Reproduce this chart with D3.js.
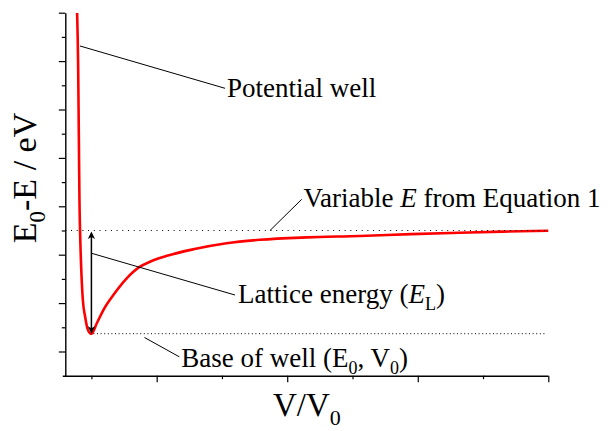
<!DOCTYPE html>
<html>
<head>
<meta charset="utf-8">
<script src="https://cdn.jsdelivr.net/npm/d3@7"></script>
<style>
  html, body { margin: 0; padding: 0; background: #fff; }
  svg { display: block; }
</style>
</head>
<body>
<svg id="chart" width="612" height="431" font-family="'Liberation Serif', Tinos, 'Times New Roman', Times, 'DejaVu Serif', serif"></svg>
<script>
// Potential energy curve (V/V0 vs E0-E), left (repulsive) branch then right branch
const volume = [0.781, 0.797, 0.807, 0.817, 0.827, 0.843, 0.869, 0.904, 0.939, 0.980, 1.000,
                1.083, 1.183, 1.336, 1.541, 1.745, 1.898, 2.203, 2.560, 3.070, 3.580, 4.300, 5.109, 5.900, 6.638, 7.300, 8.000];
const energy = [7.000, 5.884, 4.508, 3.130, 2.442, 1.752, 1.064, 0.719, 0.479, 0.376, 0.368,
                0.583, 0.857, 1.167, 1.512, 1.752, 1.855, 1.994, 2.111, 2.236, 2.308, 2.358, 2.386, 2.425, 2.455, 2.477, 2.496];

// Reference levels
const plateauE = 2.5;   // variable E
const wellMinV = 1.0;   // V0
const wellMinE = 0.368; // E0

// Axis tick values
const xMajorTicks = [2, 4, 6, 8];
const xMinorTicks = [1, 3, 5, 7];
const yMajorTicks = [0, 1, 2, 3, 4, 5, 6, 7];
const yMinorTicks = [0.5, 1.5, 2.5, 3.5, 4.5, 5.5, 6.5];

// Annotation leaders: [x1, y1, x2, y2] in data units, text anchored at (tx, ty)
const annotations = [
  { leader: [0.825, 6.312, 3.047, 5.438], tx: 3.077, ty: 5.262, key: "well" },
  { leader: [3.736, 2.500, 4.222, 3.145], tx: 4.250, ty: 2.992, key: "variable" },
  { leader: [1.004, 2.029, 3.200, 1.167], tx: 3.246, ty: 0.996, key: "lattice" },
  { leader: [1.813, 0.289, 2.347, -0.110], tx: 2.376, ty: -0.314, key: "base" }
];

const svg = d3.select("#chart");
const plotLeft = 65.3, plotRight = 548.3, plotTop = 12.7, plotBottom = 375.7;

const x = d3.scaleLinear().domain([0.6, 8]).range([plotLeft, plotRight]);
const y = d3.scaleLinear().domain([-0.5, 7]).range([plotBottom, plotTop]);

svg.append("defs").append("clipPath").attr("id", "plotClip")
  .append("rect").attr("x", plotLeft).attr("y", plotTop)
  .attr("width", plotRight - plotLeft + 2).attr("height", plotBottom - plotTop);

// Axes
function styleAxis(g) {
  g.selectAll("path.domain").attr("stroke", "#000").attr("stroke-width", 1.4);
  g.selectAll(".tick line").attr("stroke", "#000").attr("stroke-width", 1.2);
  g.selectAll(".tick text").remove();
}

svg.append("g").attr("transform", `translate(0,${plotBottom})`)
  .call(d3.axisBottom(x).tickValues(xMinorTicks).tickSize(3.5).tickSizeOuter(0).tickFormat(""))
  .call(styleAxis).call(g => g.select("path.domain").remove());
svg.append("g").attr("transform", `translate(0,${plotBottom})`)
  .call(d3.axisBottom(x).tickValues(xMajorTicks).tickSize(6.5).tickSizeOuter(0).tickFormat(""))
  .call(styleAxis)
  .call(g => g.select("path.domain").attr("d", `M${plotLeft - 2.5},0.5H${plotRight}`));

svg.append("g").attr("transform", `translate(${plotLeft},0)`)
  .call(d3.axisLeft(y).tickValues(yMinorTicks).tickSize(3.5).tickSizeOuter(0).tickFormat(""))
  .call(styleAxis).call(g => g.select("path.domain").remove());
svg.append("g").attr("transform", `translate(${plotLeft},0)`)
  .call(d3.axisLeft(y).tickValues(yMajorTicks).tickSize(6.5).tickSizeOuter(0).tickFormat(""))
  .call(styleAxis);

// Potential curve
const points = volume.map((v, i) => [v, energy[i]]);
const line = d3.line().x(d => x(d[0])).y(d => y(d[1])).curve(d3.curveMonotoneX);
svg.append("path").datum(points)
  .attr("clip-path", "url(#plotClip)")
  .attr("d", line)
  .attr("fill", "none").attr("stroke", "#ff0000").attr("stroke-width", 2.6)
  .attr("stroke-linejoin", "round");

// Dotted line at the variable E level, drawn over the curve
svg.append("line")
  .attr("x1", x(0.6)).attr("x2", x(8)).attr("y1", y(plateauE)).attr("y2", y(plateauE))
  .attr("stroke", "#000").attr("stroke-width", 1).attr("stroke-dasharray", "1,4.7");

// Dotted line at the base of the well
svg.append("line")
  .attr("x1", x(wellMinV) + 2).attr("x2", x(7.965)).attr("y1", y(wellMinE)).attr("y2", y(wellMinE))
  .attr("stroke", "#000").attr("stroke-width", 1).attr("stroke-dasharray", "1,2.6");

// Double-headed arrow: lattice energy between base of well and E
const ax = x(wellMinV), aTop = y(plateauE) + 1, aBot = y(wellMinE);
svg.append("line").attr("x1", ax).attr("x2", ax).attr("y1", aTop + 5).attr("y2", aBot - 5)
  .attr("stroke", "#000").attr("stroke-width", 1.5);
const head = "M0,0L-3.6,7.5L0,5.5L3.6,7.5Z";
svg.append("path").attr("d", head).attr("transform", `translate(${ax},${aTop})`).attr("fill", "#000");
svg.append("path").attr("d", head).attr("transform", `translate(${ax},${aBot}) rotate(180)`).attr("fill", "#000");

// Annotations
const fs = 27;
annotations.forEach(a => {
  const [x1, y1, x2, y2] = a.leader;
  svg.append("line")
    .attr("x1", x(x1)).attr("y1", y(y1)).attr("x2", x(x2)).attr("y2", y(y2))
    .attr("stroke", "#000").attr("stroke-width", 1);
  const t = svg.append("text").attr("x", x(a.tx)).attr("y", y(a.ty))
    .attr("font-size", fs).attr("fill", "#000");
  if (a.key === "well") {
    t.text("Potential well");
  } else if (a.key === "variable") {
    t.append("tspan").text("Variable ");
    t.append("tspan").attr("font-style", "italic").text("E");
    t.append("tspan").text(" from Equation 1");
  } else if (a.key === "lattice") {
    t.append("tspan").text("Lattice energy (");
    t.append("tspan").attr("font-style", "italic").text("E");
    t.append("tspan").attr("font-size", 18).attr("dy", 7).text("L");
    t.append("tspan").attr("dy", -7).text(")");
  } else {
    t.append("tspan").text("Base of well (E");
    t.append("tspan").attr("font-size", 18).attr("dy", 7).text("0");
    t.append("tspan").attr("dy", -7).text(", V");
    t.append("tspan").attr("font-size", 18).attr("dy", 7).text("0");
    t.append("tspan").attr("dy", -7).text(")");
  }
});

// Axis titles
const yt = svg.append("text")
  .attr("transform", `translate(36,178) rotate(-90)`)
  .attr("text-anchor", "middle").attr("font-size", 34).attr("fill", "#000");
yt.append("tspan").text("E");
yt.append("tspan").attr("font-size", 23).attr("dy", 9).text("0");
yt.append("tspan").attr("dy", -9).text("-E / eV");

const xt = svg.append("text")
  .attr("x", (plotLeft + plotRight) / 2).attr("y", 416)
  .attr("text-anchor", "middle").attr("font-size", 33).attr("fill", "#000");
xt.append("tspan").text("V/V");
xt.append("tspan").attr("font-size", 22).attr("dy", 9).text("0");
</script>
</body>
</html>
